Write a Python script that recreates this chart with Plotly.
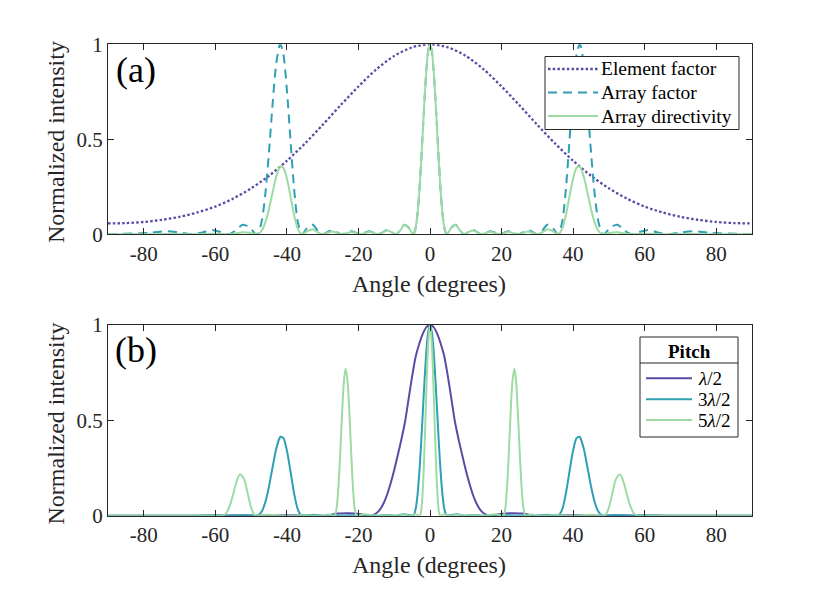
import plotly.graph_objects as go

# right half (0..90 deg) of each symmetric pattern
# (a) element factor
ef_angle = [0, 5, 10, 15, 20, 25, 30, 35, 40, 45, 50, 55, 60, 65, 70, 75, 80, 85, 90]
ef_value = [1, 0.984, 0.939, 0.868, 0.778, 0.679, 0.576, 0.477, 0.387, 0.308, 0.242,
            0.188, 0.146, 0.115, 0.092, 0.076, 0.065, 0.059, 0.057]

# (a) array factor and array directivity share the same angles
arr_angle = [0, 0.5, 1, 1.5, 2, 2.5, 3, 3.5, 4, 4.5, 4.78,
             5.98, 7.18, 8.39, 9.59, 10.81, 12.03, 13.25, 14.48,
             15.71, 16.96, 18.21, 19.47, 20.74, 22.02, 23.32, 24.62,
             25.94, 27.28, 28.63, 30, 31.39, 32.8, 34.23, 35.69,
             36, 37, 38, 39, 40, 41, 41.81, 42, 43, 44, 45, 46, 47, 48, 48.59,
             50.43, 52.34, 54.34, 56.44, 58.67, 61.04, 63.61, 66.44,
             69.64, 73.4, 78.28, 90]
af_value = [1, 0.965, 0.866, 0.718, 0.546, 0.373, 0.222, 0.108, 0.036, 0.004, 0,
            0.0352, 0.0506, 0.0194, 0, 0.0131, 0.0226, 0.0101, 0,
            0.0085, 0.0162, 0.0079, 0, 0.0079, 0.0162, 0.0085, 0,
            0.0101, 0.0226, 0.0131, 0, 0.0194, 0.0506, 0.0352, 0,
            0.0033, 0.0708, 0.243, 0.497, 0.760, 0.949, 1, 0.997, 0.895, 0.684,
            0.434, 0.217, 0.072, 0.008, 0,
            0.0352, 0.0506, 0.0194, 0, 0.0131, 0.0226, 0.0101, 0,
            0.0085, 0.0162, 0.0079, 0]
dir_value = [1, 0.965, 0.865, 0.717, 0.545, 0.371, 0.221, 0.107, 0.036, 0.004, 0,
             0.0344, 0.049, 0.0186, 0, 0.0122, 0.0206, 0.009, 0,
             0.0073, 0.0135, 0.0064, 0, 0.006, 0.012, 0.0061, 0,
             0.0066, 0.0143, 0.0079, 0, 0.0106, 0.0263, 0.0173, 0,
             0.0015, 0.0311, 0.1025, 0.2007, 0.294, 0.351, 0.3567, 0.3525, 0.3022,
             0.2203, 0.1337, 0.0637, 0.0201, 0.0022, 0,
             0.0083, 0.0109, 0.0038, 0, 0.002, 0.0032, 0.0012, 0,
             0.0008, 0.0013, 0.0005, 0]

# (b) directivity for three pitches
p1_angle = [0, 1, 2, 3, 4, 5, 6, 7, 8, 9, 10, 11, 12, 13, 14, 15, 16, 17,
            19, 21, 23.5, 26, 28, 29.5, 35, 40, 45, 48.6, 55, 62, 70, 90]
p1_value = [1, 0.989, 0.955, 0.902, 0.835, 0.73, 0.61, 0.49, 0.40, 0.318, 0.24,
            0.17, 0.11, 0.064, 0.032, 0.013, 0.004, 0.002,
            0.007, 0.012, 0.013, 0.011, 0.004, 0, 0.002, 0.003, 0.002, 0,
            0.001, 0.001, 0, 0]

p3_angle = [0, 0.5, 1, 1.5, 2, 2.5, 3, 3.5, 4, 4.5, 4.78, 6, 7.5, 9.59, 12, 14.48,
            17, 19.47, 22, 24.62, 27.3, 30, 32.8, 35.69,
            36, 37, 38, 39, 40, 41, 41.81, 42, 43, 44, 45, 46, 47, 48, 48.59,
            52, 56.44, 60, 66.44, 90]
p3_value = [1, 0.965, 0.866, 0.718, 0.546, 0.373, 0.222, 0.108, 0.036, 0.004, 0,
            0.004, 0.008, 0, 0.004, 0, 0.003, 0, 0.003, 0, 0.003, 0, 0.005, 0,
            0.0017, 0.036, 0.119, 0.233, 0.342, 0.408, 0.414, 0.409, 0.350, 0.254,
            0.154, 0.073, 0.023, 0.0025, 0,
            0.004, 0, 0.002, 0, 0]

p5_angle = [0, 0.5, 1, 1.5, 2, 2.5, 2.87, 4, 5.5, 7.5, 9.5, 12, 15, 18.5, 20.49,
            21, 21.5, 22, 22.5, 23, 23.58, 24, 24.5, 25, 25.5, 26, 26.5, 26.74,
            28.5, 30.5, 35, 40, 45.5, 48.59,
            49, 50, 51, 52, 53.13, 54, 55, 56, 57, 58, 58.21, 70, 90]
p5_value = [1, 0.905, 0.662, 0.373, 0.141, 0.021, 0, 0.008, 0, 0.004, 0, 0.003, 0,
            0.008, 0,
            0.031, 0.138, 0.317, 0.526, 0.697, 0.770, 0.719, 0.564, 0.364, 0.180,
            0.057, 0.005, 0,
            0.006, 0, 0.002, 0, 0.005, 0,
            0.003, 0.043, 0.120, 0.193, 0.216, 0.183, 0.114, 0.050, 0.012, 0.0003,
            0, 0, 0]

x_ticks = [-80, -60, -40, -20, 0, 20, 40, 60, 80]
x_tick_labels = ["-80", "-60", "-40", "-20", "0", "20", "40", "60", "80"]
y_ticks = [0, 0.5, 1]
y_tick_labels = ["0", "0.5", "1"]


def full_angle(half):
    # patterns are symmetric about 0 deg
    return [-a for a in half[:0:-1]] + half


def full_value(half):
    return half[:0:-1] + half


W, H = 830, 593
FONT = "Liberation Serif"
INK = "#262626"
PURPLE = "#5B4BA5"
TEAL = "#2F9FB3"
GREEN = "#9DDBA3"

DOT = "2.5px,2.2px"
DASH = "9px,6px"

fig = go.Figure()

top = [
    ("Element factor", ef_angle, ef_value, PURPLE, DOT),
    ("Array factor", arr_angle, af_value, TEAL, DASH),
    ("Array directivity", arr_angle, dir_value, GREEN, "solid"),
]
for name, ang, val, col, dash in top:
    fig.add_trace(go.Scatter(
        x=full_angle(ang), y=full_value(val), name=name, mode="lines",
        line=dict(color=col, width=2.3 if dash == DOT else 2, dash=dash,
                  shape="spline", smoothing=0.8),
        xaxis="x", yaxis="y", showlegend=False))

bottom = [
    ("<i>λ</i>/2", p1_angle, p1_value, PURPLE, "solid"),
    ("3<i>λ</i>/2", p3_angle, p3_value, TEAL, "solid"),
    ("5<i>λ</i>/2", p5_angle, p5_value, GREEN, "solid"),
]
for name, ang, val, col, dash in bottom:
    fig.add_trace(go.Scatter(
        x=full_angle(ang), y=full_value(val), name=name, mode="lines",
        line=dict(color=col, width=2, shape="spline", smoothing=0.8),
        xaxis="x2", yaxis="y2", showlegend=False))

tick_font = dict(family=FONT, size=21, color=INK)
xstyle = dict(range=[-90, 90], tickvals=x_ticks, ticktext=x_tick_labels,
              ticks="inside", ticklen=6, tickcolor=INK, tickwidth=1,
              showline=True, linecolor=INK, linewidth=1, mirror="ticks",
              showgrid=False, zeroline=False, tickfont=tick_font, automargin=False)
ystyle = dict(xstyle, range=[0, 1], tickvals=y_ticks, ticktext=y_tick_labels)

dom_x = [108 / W, 752 / W]
fig.update_layout(
    width=W, height=H,
    margin=dict(l=0, r=0, t=0, b=0),
    paper_bgcolor="white", plot_bgcolor="white",
    showlegend=False,
    xaxis=dict(xstyle, domain=dom_x, anchor="y"),
    yaxis=dict(ystyle, domain=[1 - 234.3 / H, 1 - 44.3 / H], anchor="x"),
    xaxis2=dict(xstyle, domain=dom_x, anchor="y2"),
    yaxis2=dict(ystyle, domain=[1 - 515.7 / H, 1 - 325 / H], anchor="x2"),
)


def px(x, y):
    return x / W, 1 - y / H


def legend_box(x0, y0, x1, y1, entries, rows, line_x, text_x, size):
    a, b = px(x0, y0)
    c, d = px(x1, y1)
    fig.add_shape(type="rect", xref="paper", yref="paper", x0=a, y0=d, x1=c, y1=b,
                  fillcolor="white", line=dict(color=INK, width=1), layer="above")
    for (name, _, _, col, dash), ry in zip(entries, rows):
        lx0, ly = px(line_x[0], ry)
        lx1, _ = px(line_x[1], ry)
        fig.add_shape(type="line", xref="paper", yref="paper",
                      x0=lx0, x1=lx1, y0=ly, y1=ly, layer="above",
                      line=dict(color=col, width=2.3 if dash == DOT else 2, dash=dash))
        tx, ty = px(text_x, ry)
        fig.add_annotation(text=name, xref="paper", yref="paper", x=tx, y=ty,
                           xanchor="left", yanchor="middle", showarrow=False,
                           font=dict(family=FONT, size=size, color="black"))


# legends of (a) and (b)
legend_box(545, 56.5, 739, 129.5, top, [69, 92.5, 116], (548, 598), 599, 19.5)
legend_box(640, 337, 738, 437, bottom, [378.3, 399.3, 420], (646, 692), 696, 19)
sx0, sy = px(640, 363)
sx1, _ = px(738, 363)
fig.add_shape(type="line", xref="paper", yref="paper", x0=sx0, x1=sx1,
              y0=sy, y1=sy, line=dict(color=INK, width=1), layer="above")
tx, ty = px(689, 351)
fig.add_annotation(text="<b>Pitch</b>", xref="paper", yref="paper", x=tx, y=ty,
                   xanchor="center", yanchor="middle", showarrow=False,
                   font=dict(family=FONT, size=19, color="black"))

label_font = dict(family=FONT, size=24, color=INK)
for txt, y in [("(a)", 70), ("(b)", 350)]:
    ax, ay = px(136.3, y)
    fig.add_annotation(text=txt, xref="paper", yref="paper", x=ax, y=ay,
                       showarrow=False, xanchor="center", yanchor="middle",
                       font=dict(family=FONT, size=36, color="black"))
for y in [284, 565]:
    ax, ay = px(429, y)
    fig.add_annotation(text="Angle (degrees)", xref="paper", yref="paper",
                       x=ax, y=ay, showarrow=False, xanchor="center",
                       yanchor="middle", font=label_font)
for y in [142.5, 424]:
    ax, ay = px(55.5, y)
    fig.add_annotation(text="Normalized intensity", xref="paper", yref="paper",
                       x=ax, y=ay, showarrow=False, textangle=-90,
                       xanchor="center", yanchor="middle", font=label_font)

# the page body has a default 8px margin; drop it so the figure sits at the origin
fig.write_html("out.html", config={"displayModeBar": False},
               post_script="document.body.style.margin='0px';")
